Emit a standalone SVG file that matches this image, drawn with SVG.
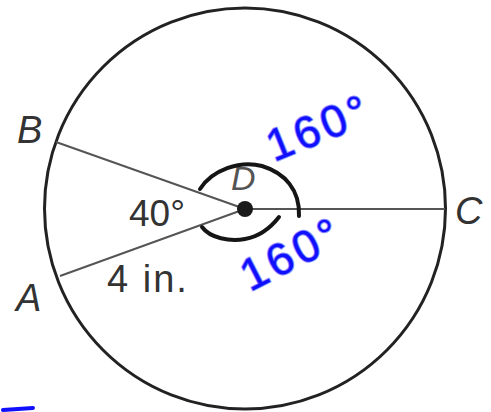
<svg xmlns="http://www.w3.org/2000/svg" width="491" height="412" viewBox="0 0 491 412">
<style>
.lbl{font-family:"Liberation Sans",Arial,sans-serif;font-style:italic;fill:#333}
.num{font-family:"Liberation Sans",Arial,sans-serif;fill:#333}
.hand{font-family:"Liberation Sans",Arial,sans-serif;fill:#1010ff;stroke:#9090ff;stroke-width:2;paint-order:stroke;stroke-linejoin:round;letter-spacing:4px}
.ink{fill:none;stroke:#151515;stroke-width:4;stroke-linecap:round}
.rad{stroke:#555;stroke-width:2;fill:none}
</style>
<rect width="491" height="412" fill="#fff"/>
<g id="circle">
<circle cx="245" cy="208.5" r="200.5" fill="none" stroke="#222" stroke-width="3"/>
</g>
<g id="connectors">
<line class="rad" x1="245" y1="209" x2="56" y2="142"/>
<line class="rad" x1="245" y1="209" x2="60" y2="276"/>
<line class="rad" x1="245" y1="209" x2="445" y2="209"/>
</g>
<g id="center-D">
<circle cx="245" cy="209" r="8" fill="#1a1a1a"/>
<text class="lbl" x="231" y="190" font-size="34" style="fill:#555">D</text>
</g>
<g id="point-B"><text class="lbl" x="17" y="143" font-size="38">B</text></g>
<g id="point-A"><text class="lbl" x="16" y="311" font-size="38">A</text></g>
<g id="point-C"><text class="lbl" x="455" y="224" font-size="38">C</text></g>
<g id="angle-label"><text class="num" x="129" y="226" font-size="37">40°</text></g>
<g id="radius-label"><text class="num" x="107" y="292" font-size="38" letter-spacing="2">4 in.</text></g>
<g id="handwriting">
<path class="ink" d="M200,189 C212,170 240,160 262,166 C285,173 300,190 299,216"/>
<path class="ink" d="M202,227 C210,238 230,242 245,239 C262,236 272,226 279,217"/>
<text class="hand" x="274" y="162" font-size="45" transform="rotate(-22 274 162)">160°</text>
<text class="hand" x="250" y="292" font-size="45" transform="rotate(-27 250 292)">160°</text>
<path d="M3,410 L33,408" stroke="#1010ff" stroke-width="4" stroke-linecap="round" fill="none"/>
</g>
</svg>
